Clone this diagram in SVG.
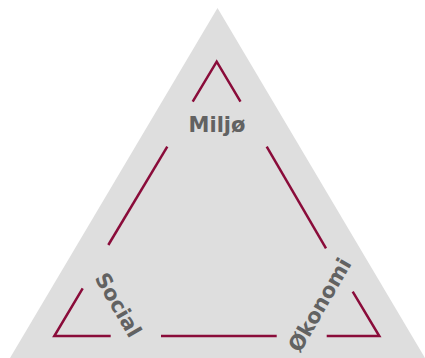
<svg xmlns="http://www.w3.org/2000/svg" width="425" height="358" viewBox="0 0 425 358">
<style>
.seg{stroke:#8a0c3a;stroke-width:2.5;fill:none;stroke-linecap:butt;stroke-linejoin:miter}
.lbl{font-family:"DejaVu Sans",sans-serif;font-weight:bold;font-size:21px;fill:#626262;text-anchor:middle;dominant-baseline:central}
</style>
<rect width="425" height="358" fill="#ffffff"/>
<g id="background">
<polygon points="217.5,8 10,358 425,358" fill="#dedede"/>
</g>
<g id="connectors">
<polyline class="seg" points="192.7,101.7 216.7,61.7 240.5,101.7"/>
<line class="seg" x1="167.3" y1="146.7" x2="108.3" y2="245"/>
<line class="seg" x1="266.7" y1="146.7" x2="326" y2="248.3"/>
<polyline class="seg" points="82.7,288.3 54.3,336 110.7,336"/>
<line class="seg" x1="161" y1="336" x2="276.7" y2="336"/>
<polyline class="seg" points="326.7,336 379.3,336 352.7,291.7"/>
</g>
<g id="node-miljo">
<text class="lbl" x="217" y="125">Miljø</text>
</g>
<g id="node-social">
<text class="lbl" x="0" y="0" transform="translate(118,305) rotate(60)">Social</text>
</g>
<g id="node-okonomi">
<text class="lbl" x="0" y="0" transform="translate(320,305) rotate(-60)">Økonomi</text>
</g>
</svg>
